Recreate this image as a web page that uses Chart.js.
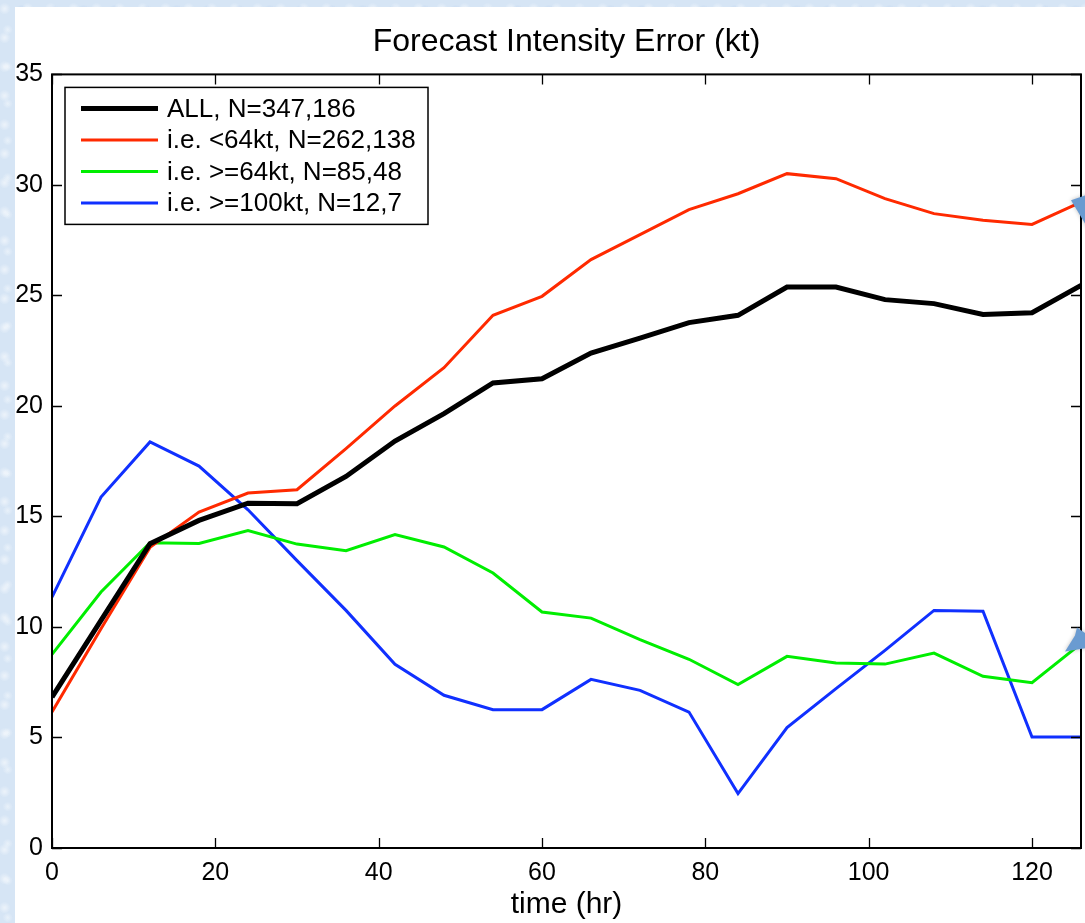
<!DOCTYPE html>
<html>
<head>
<meta charset="utf-8">
<script src="https://cdn.jsdelivr.net/npm/chart.js@4.4.1/dist/chart.umd.min.js"></script>
<style>
  html, body { margin: 0; padding: 0; }
  body {
    width: 1085px; height: 923px; overflow: hidden; position: relative;
    background-color: #d6e5f5;
    background-image:
      radial-gradient(circle at 20% 30%, rgba(255,255,255,0.55) 0, rgba(255,255,255,0) 6px),
      radial-gradient(circle at 70% 60%, rgba(180,205,235,0.6) 0, rgba(180,205,235,0) 7px),
      radial-gradient(circle at 45% 80%, rgba(240,246,252,0.7) 0, rgba(240,246,252,0) 5px);
    background-size: 23px 29px, 31px 19px, 17px 37px;
  }
  #panel {
    position: absolute; left: 15px; top: 7px; width: 1070px; height: 916px;
    background: #ffffff;
  }
  canvas { display: block; }
</style>
</head>
<body>
<div id="panel"><canvas id="chart" width="1070" height="916"></canvas></div>
<script>
// Forecast hour (every 6 h out to 126 h)
const hours = [0, 6, 12, 18, 24, 30, 36, 42, 48, 54, 60, 66, 72, 78, 84, 90, 96, 102, 108, 114, 120, 126];

// Mean absolute intensity error (kt) per forecast hour
const errAll    = [6.83, 10.3, 13.77, 14.82, 15.6, 15.58, 16.81, 18.41, 19.65, 21.04, 21.23, 22.39, 23.07, 23.77, 24.1, 25.38, 25.38, 24.81, 24.63, 24.14, 24.22, 25.45];
const errBelow64 = [6.15, 9.92, 13.6, 15.2, 16.06, 16.21, 18.07, 20.0, 21.73, 24.1, 24.96, 26.62, 27.75, 28.88, 29.6, 30.51, 30.28, 29.38, 28.7, 28.4, 28.21, 29.22];
const errAbove64 = [8.76, 11.58, 13.81, 13.78, 14.36, 13.75, 13.45, 14.18, 13.62, 12.44, 10.68, 10.4, 9.43, 8.54, 7.39, 8.67, 8.37, 8.32, 8.82, 7.77, 7.48, 9.25];
const errAbove100 = [11.35, 15.88, 18.37, 17.28, 15.3, 13.0, 10.75, 8.31, 6.91, 6.26, 6.26, 7.63, 7.13, 6.15, 2.46, 5.45, 7.21, 8.94, 10.75, 10.71, 5.02, 5.02];

const seriesLabels = [
  'ALL, N=347,186',
  'i.e. <64kt, N=262,138',
  'i.e. >=64kt, N=85,48',
  'i.e. >=100kt, N=12,7'
];

const xTickValues = [0, 20, 40, 60, 80, 100, 120];
const yTickValues = [0, 5, 10, 15, 20, 25, 30, 35];

const FONT = '"Liberation Sans", Arial, Helvetica, sans-serif';

function toPoints(ys) { return ys.map((y, i) => ({ x: hours[i], y })); }

// Box frame with inward-pointing ticks on all four sides
const framePlugin = {
  id: 'frame',
  afterDatasetsDraw(chart) {
    const { ctx, chartArea: a, scales } = chart;
    ctx.save();
    ctx.strokeStyle = '#000';
    ctx.lineWidth = 2;
    ctx.strokeRect(a.left, a.top, a.right - a.left, a.bottom - a.top);
    ctx.lineWidth = 1.3;
    const len = 10;
    ctx.beginPath();
    xTickValues.forEach(v => {
      const x = Math.round(scales.x.getPixelForValue(v)) + 0.5;
      ctx.moveTo(x, a.bottom); ctx.lineTo(x, a.bottom - len);
      ctx.moveTo(x, a.top); ctx.lineTo(x, a.top + len);
    });
    yTickValues.forEach(v => {
      const y = Math.round(scales.y.getPixelForValue(v)) + 0.5;
      ctx.moveTo(a.left, y); ctx.lineTo(a.left + len, y);
      ctx.moveTo(a.right, y); ctx.lineTo(a.right - len, y);
    });
    ctx.stroke();
    ctx.restore();
  }
};

// Boxed legend in the upper-left corner of the plot
const boxLegendPlugin = {
  id: 'boxLegend',
  afterDraw(chart) {
    const { ctx, chartArea: a } = chart;
    const left = a.left + 13, top = a.top + 13;
    const w = 363, h = 137, rowH = 31.5;
    ctx.save();
    ctx.fillStyle = '#fff';
    ctx.fillRect(left, top, w, h);
    ctx.strokeStyle = '#000';
    ctx.lineWidth = 1.5;
    ctx.strokeRect(left, top, w, h);
    ctx.font = '26px ' + FONT;
    ctx.textBaseline = 'middle';
    chart.data.datasets.forEach((ds, i) => {
      const y = top + 21 + i * rowH;
      ctx.strokeStyle = ds.borderColor;
      ctx.lineWidth = ds.borderWidth;
      ctx.beginPath();
      ctx.moveTo(left + 16, y); ctx.lineTo(left + 93, y);
      ctx.stroke();
      ctx.fillStyle = '#000';
      ctx.fillText(ds.label, left + 102, y + 1);
    });
    ctx.restore();
  }
};

// Small pointer marks beside the final values of two series
const pointerPlugin = {
  id: 'pointers',
  afterDraw(chart) {
    const { ctx, scales } = chart;
    const last = hours.length - 1;
    const marks = [
      { ds: 1, pts: [[-10, -2], [8, -8], [8, 28]] },
      { ds: 2, pts: [[-16, 8], [-6, -8], [-4, -16], [8, -8], [8, 4]] }
    ];
    ctx.save();
    ctx.fillStyle = '#6a9bd1';
    ctx.shadowColor = 'rgba(0,0,0,0.25)';
    ctx.shadowBlur = 4;
    marks.forEach(m => {
      const v = chart.data.datasets[m.ds].data[last];
      const x0 = scales.x.getPixelForValue(v.x);
      const y0 = scales.y.getPixelForValue(v.y);
      ctx.beginPath();
      m.pts.forEach(([px, py], i) => i ? ctx.lineTo(x0 + px, y0 + py) : ctx.moveTo(x0 + px, y0 + py));
      ctx.closePath();
      ctx.fill();
    });
    ctx.restore();
  }
};

new Chart(document.getElementById('chart'), {
  type: 'line',
  data: {
    datasets: [
      { label: seriesLabels[0], data: toPoints(errAll), borderColor: '#000000', borderWidth: 5 },
      { label: seriesLabels[1], data: toPoints(errBelow64), borderColor: '#ff2a00', borderWidth: 3 },
      { label: seriesLabels[2], data: toPoints(errAbove64), borderColor: '#00ee00', borderWidth: 3 },
      { label: seriesLabels[3], data: toPoints(errAbove100), borderColor: '#1030ff', borderWidth: 3 }
    ].map(d => Object.assign(d, { pointRadius: 0, tension: 0, fill: false, borderJoinStyle: 'miter' }))
  },
  options: {
    responsive: false,
    animation: false,
    events: [],
    layout: { padding: { left: 0, right: 4, top: 0, bottom: 0 } },
    plugins: {
      legend: { display: false },
      tooltip: { enabled: false },
      title: {
        display: true,
        fullSize: false,
        text: 'Forecast Intensity Error (kt)',
        color: '#000',
        font: { family: FONT, size: 32, weight: 'normal' },
        padding: { top: 16, bottom: 13 }
      }
    },
    scales: {
      x: {
        type: 'linear',
        min: 0, max: 126,
        afterBuildTicks(scale) { scale.ticks = xTickValues.map(v => ({ value: v })); },
        afterFit(scale) { scale.height = 75; },
        grid: { display: false, drawTicks: false },
        border: { display: false },
        ticks: { color: '#000', font: { family: FONT, size: 25 }, padding: 10, maxRotation: 0 },
        title: {
          display: true, text: 'time (hr)', color: '#000',
          font: { family: FONT, size: 30 }, padding: { top: 0, bottom: 0 }
        }
      },
      y: {
        type: 'linear',
        min: 0, max: 35,
        afterBuildTicks(scale) { scale.ticks = yTickValues.map(v => ({ value: v })); },
        afterFit(scale) { scale.width = 37; },
        grid: { display: false, drawTicks: false },
        border: { display: false },
        ticks: { color: '#000', font: { family: FONT, size: 25 }, padding: 9 }
      }
    }
  },
  plugins: [framePlugin, boxLegendPlugin, pointerPlugin]
});
</script>
</body>
</html>
